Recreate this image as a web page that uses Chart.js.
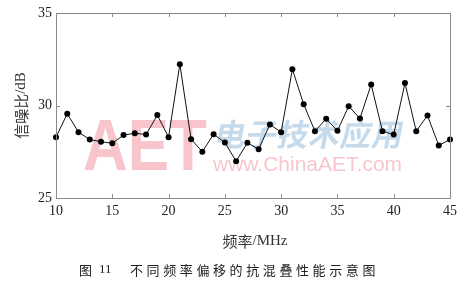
<!DOCTYPE html>
<html>
<head>
<meta charset="utf-8">
<script src="https://cdn.jsdelivr.net/npm/chart.js@4/dist/chart.umd.min.js"></script>
<style>
html,body{margin:0;padding:0;background:#fff;}
#wrap{position:relative;width:475px;height:287px;}
</style>
</head>
<body>
<div id="wrap"><canvas id="c" width="475" height="287"></canvas></div>
<script>
const freqMHz = [10,11,12,13,14,15,16,17,18,19,20,21,22,23,24,25,26,27,28,29,30,31,32,33,34,35,36,37,38,39,40,41,42,43,44,45];
const snrDB = [28.29,29.55,28.56,28.16,28.04,27.96,28.4,28.5,28.43,29.48,28.29,32.23,28.18,27.5,28.45,28.0,26.99,27.98,27.64,28.97,28.56,31.96,30.07,28.61,29.28,28.63,29.96,29.3,31.14,28.61,28.43,31.21,28.61,29.46,27.84,28.16];
const xTicks = [10,15,20,25,30,35,40,45];
const yTicks = [25,30,35];
const xTitle = ['频率', '/MHz'];
const yTitle = ['信噪比', '/dB'];
const captionHead = '图 11';
const captionBody = '不同频率偏移的抗混叠性能示意图';

const SERIF = '"Liberation Serif", "DejaVu Serif", serif';
const CJK = '"Noto Sans CJK SC", sans-serif';

const decor = {
  id: 'decor',
  beforeDatasetsDraw(chart) {
    const ctx = chart.ctx;
    ctx.save();
    // watermark
    ctx.globalAlpha = 0.4;
    ctx.fillStyle = '#ee6f80';
    ctx.font = 'bold 72px "Liberation Sans", Arial, sans-serif';
    ctx.textBaseline = 'alphabetic';
    ctx.save();
    ctx.translate(83, 170);
    ctx.scale(0.86, 1);
    ctx.fillText('AET', 0, 0);
    ctx.restore();
    ctx.font = '21px "Liberation Sans", Arial, sans-serif';
    ctx.fillText('www.ChinaAET.com', 213, 171);
    ctx.globalAlpha = 0.4;
    ctx.fillStyle = '#6fa3cc';
    ctx.font = 'bold 31px ' + CJK;
    ctx.save();
    ctx.translate(213, 146);
    ctx.transform(1, 0, -0.2, 1, 0, 0);
    const wm = '电子技术应用';
    for (let i = 0; i < wm.length; i++) ctx.fillText(wm[i], i * 31.5, 0);
    ctx.restore();
    ctx.restore();
  },
  afterDraw(chart) {
    const ctx = chart.ctx;
    const a = chart.chartArea;
    const xs = chart.scales.x, ys = chart.scales.y;
    ctx.save();
    ctx.strokeStyle = '#8a8a8a';
    ctx.lineWidth = 1;
    ctx.strokeRect(Math.round(a.left) + 0.5, Math.round(a.top) + 0.5, Math.round(a.right - a.left), Math.round(a.bottom - a.top));
    ctx.beginPath();
    const tl = 4;
    xTicks.forEach(v => {
      const px = Math.round(xs.getPixelForValue(v)) + 0.5;
      ctx.moveTo(px, a.bottom); ctx.lineTo(px, a.bottom - tl);
      ctx.moveTo(px, a.top); ctx.lineTo(px, a.top + tl);
    });
    yTicks.forEach(v => {
      const py = Math.round(ys.getPixelForValue(v)) + 0.5;
      ctx.moveTo(a.left, py); ctx.lineTo(a.left + tl, py);
      ctx.moveTo(a.right, py); ctx.lineTo(a.right - tl, py);
    });
    ctx.stroke();

    // axis titles
    ctx.fillStyle = '#333';
    ctx.textBaseline = 'middle';
    ctx.font = '15px ' + CJK;
    const w1 = ctx.measureText(xTitle[0]).width;
    ctx.font = '15px ' + SERIF;
    const w2 = ctx.measureText(xTitle[1]).width;
    const cx = (a.left + a.right) / 2 + 2;
    let sx = cx - (w1 + w2) / 2;
    ctx.textAlign = 'left';
    ctx.font = '15px ' + CJK;
    ctx.fillText(xTitle[0], sx, 241);
    ctx.font = '15px ' + SERIF;
    ctx.fillText(xTitle[1], sx + w1, 241);
    ctx.save();
    ctx.translate(21, (a.top + a.bottom) / 2);
    ctx.rotate(-Math.PI / 2);
    ctx.font = '15px ' + CJK;
    const v1 = ctx.measureText(yTitle[0]).width;
    ctx.font = '15px ' + SERIF;
    const v2 = ctx.measureText(yTitle[1]).width;
    let sy = -(v1 + v2) / 2;
    ctx.font = '15px ' + CJK;
    ctx.fillText(yTitle[0], sy, 0);
    ctx.font = '15px ' + SERIF;
    ctx.fillText(yTitle[1], sy + v1, 0);
    ctx.restore();

    // caption
    ctx.fillStyle = '#222';
    ctx.textBaseline = 'middle';
    ctx.font = '13px ' + CJK;
    ctx.fillText('图', 79, 270);
    ctx.font = '13px ' + SERIF;
    ctx.fillText('11', 99, 270);
    ctx.font = '13px ' + CJK;
    for (let i = 0; i < captionBody.length; i++) {
      ctx.fillText(captionBody[i], 130 + i * 16.6, 270);
    }
    ctx.restore();
  }
};

new Chart(document.getElementById('c'), {
  type: 'line',
  data: {
    datasets: [{
      data: freqMHz.map((f, i) => ({ x: f, y: snrDB[i] })),
      borderColor: '#111',
      borderWidth: 1,
      pointRadius: 3,
      pointBackgroundColor: '#000',
      pointBorderColor: '#000',
      pointBorderWidth: 0,
      tension: 0,
      fill: false,
      clip: false
    }]
  },
  options: {
    responsive: false,
    animation: false,
    devicePixelRatio: 1,
    layout: { padding: { left: 0, top: 13, right: 25, bottom: 0 } },
    plugins: { legend: { display: false }, tooltip: { enabled: false } },
    scales: {
      x: {
        type: 'linear', min: 10, max: 45,
        afterFit(s) { s.height = 89; },
        afterBuildTicks(s) { s.ticks = xTicks.map(v => ({ value: v })); },
        grid: { display: false, drawTicks: false },
        border: { display: false },
        ticks: { padding: 5, color: '#222', font: { family: SERIF, size: 14 }, maxRotation: 0, autoSkip: false }
      },
      y: {
        min: 25, max: 35,
        afterFit(s) { s.width = 56; },
        afterBuildTicks(s) { s.ticks = yTicks.map(v => ({ value: v })); },
        grid: { display: false, drawTicks: false },
        border: { display: false },
        ticks: { padding: 4, color: '#222', font: { family: SERIF, size: 14 } }
      }
    }
  },
  plugins: [decor]
});
</script>
</body>
</html>
